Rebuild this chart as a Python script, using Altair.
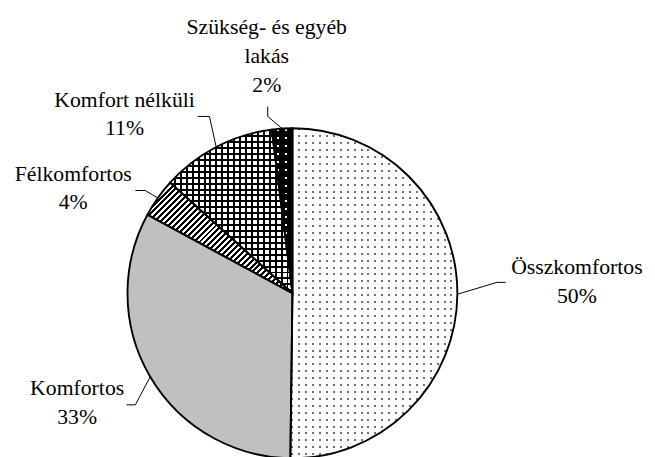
import math
import altair as alt
import pandas as pd

# ---------------- data ----------------
categories = ["Összkomfortos", "Komfortos", "Félkomfortos", "Komfort nélküli",
              "Szükség- és egyéb lakás"]
shares = [50.2, 32.7, 3.8, 11.3, 2.0]
label_text = ["Összkomfortos", "Komfortos", "Félkomfortos", "Komfort nélküli",
              "Szükség- és egyéb\nlakás"]

# ---------------- layout (page pixel coordinates) ----------------
M = 8                      # page margin
W, H = 647, 449            # drawing size
CX, CY, R = 296, 294, 167  # pie centre and radius
FONT = "Times New Roman, Liberation Serif, DejaVu Serif, serif"
FS = 22
LH = 29
# label anchor: centre x, first baseline y
LABEL_POS = [(584, 275), (78, 397), (74, 180), (126, 105), (270, 32)]
# leader elbow and end points
LEADERS = [[(503, 283), (512, 283)],
           [(137, 407), (128, 407)],
           [(147, 190), (137, 190)],
           [(212, 115), (200, 115)],
           [(271, 115), (271, 105)]]

total = sum(shares)
starts, ends = [], []
acc = 0.0
for v in shares:
    starts.append(acc / total * 2 * math.pi)
    acc += v
    ends.append(acc / total * 2 * math.pi)


def arc_bbox(a0, a1):
    pts = [(0.0, 0.0)]
    angs = [a0, a1] + [k * math.pi / 2 for k in range(5) if a0 < k * math.pi / 2 < a1]
    for a in angs:
        pts.append((R * math.sin(a), -R * math.cos(a)))
    xs = [p[0] for p in pts]
    ys = [p[1] for p in pts]
    x0 = CX - M + min(xs)
    y0 = CY - M + min(ys)
    return x0, y0, max(xs) - min(xs), max(ys) - min(ys)


def stripe_stops(start, length, period, on, on_color, off_color, phase=0.0):
    stops = []
    end = start + length

    def add(a, b, c):
        a = min(max(a, start), end)
        b = min(max(b, start), end)
        if b > a:
            stops.append({"offset": round((a - start) / length, 6), "color": c})
            stops.append({"offset": round((b - start) / length, 6), "color": c})

    k = math.floor((start - phase) / period) - 1
    while True:
        s = phase + k * period
        if s > end:
            break
        add(s, s + on, on_color)
        add(s + on, s + period, off_color)
        k += 1
    return stops


CLEAR = "rgba(0,0,0,0)"


def vgrad(i, period, on, on_color, off_color):
    x0, y0, w, h = arc_bbox(starts[i], ends[i])
    return {"gradient": "linear", "x1": 0, "y1": 0, "x2": 1, "y2": 0,
            "stops": stripe_stops(x0, w, period, on, on_color, off_color)}


def hgrad(i, period, on, on_color, off_color):
    x0, y0, w, h = arc_bbox(starts[i], ends[i])
    return {"gradient": "linear", "x1": 0, "y1": 0, "x2": 0, "y2": 1,
            "stops": stripe_stops(y0, h, period, on, on_color, off_color)}


def dgrad(i, period_s, on_s, on_color, off_color):
    # stripes along s = x + y (lines rising to the right)
    x0, y0, w, h = arc_bbox(starts[i], ends[i])
    k = (w + h) / (w * w + h * h)
    return {"gradient": "linear", "x1": 0, "y1": 0, "x2": w * k, "y2": h * k,
            "stops": stripe_stops(x0 + y0, w + h, period_s, on_s, on_color, off_color,
                                  phase=0.5)}


base_fill = {0: "#707070", 1: "#c0c0c0", 2: "white", 3: "white", 4: "white"}
over1 = {0: vgrad(0, 7, 2, CLEAR, "white"),
         2: dgrad(2, 6, 3, "black", CLEAR),
         3: vgrad(3, 6, 2, "black", CLEAR),
         4: vgrad(4, 8, 2, CLEAR, "black")}
over2 = {0: hgrad(0, 7, 2, CLEAR, "white"),
         3: hgrad(3, 6, 2, "black", CLEAR),
         4: hgrad(4, 8, 2, CLEAR, "black")}


def cond_fill(mapping):
    items = list(mapping.items())
    w = alt.when(alt.datum.idx == items[0][0]).then(alt.value(items[0][1]))
    for k, v in items[1:]:
        w = w.when(alt.datum.idx == k).then(alt.value(v))
    return w.otherwise(alt.value("transparent"))


pie_df = pd.DataFrame({"cat": categories, "share": shares, "idx": list(range(len(shares)))})

arc_enc = dict(
    theta=alt.Theta("share:Q", stack=True),
    order=alt.Order("idx:Q"),
    x=alt.value(CX - M),
    y=alt.value(CY - M),
)

base = alt.Chart(pie_df).mark_arc(outerRadius=R, strokeWidth=0).encode(
    fill=cond_fill(base_fill), **arc_enc)
layer1 = alt.Chart(pie_df).mark_arc(outerRadius=R, strokeWidth=0).encode(
    fill=cond_fill(over1), **arc_enc)
layer2 = alt.Chart(pie_df).mark_arc(outerRadius=R, strokeWidth=0).encode(
    fill=cond_fill(over2), **arc_enc)
outline = alt.Chart(pie_df).mark_arc(outerRadius=R, fill="transparent", stroke="black",
                                     strokeWidth=1.9).encode(**arc_enc)

# leader lines: from slice edge at mid angle to the label
rows = []
for i in range(len(shares)):
    mid = (starts[i] + ends[i]) / 2
    ex = CX + R * math.sin(mid)
    ey = CY - R * math.cos(mid)
    pts = [(ex, ey)] + LEADERS[i]
    for j, (px, py) in enumerate(pts):
        rows.append({"idx": i, "ord": j, "x": px, "y": py})
lead_df = pd.DataFrame(rows)

xs = alt.Scale(domain=[M, M + W], range=[0, W], nice=False, zero=False)
ys = alt.Scale(domain=[M, M + H], range=[0, H], nice=False, zero=False)

leaders = alt.Chart(lead_df).mark_line(color="black", strokeWidth=1).encode(
    x=alt.X("x:Q", scale=xs, axis=None),
    y=alt.Y("y:Q", scale=ys, axis=None),
    detail="idx:N",
    order="ord:Q",
)

lab_df = pd.DataFrame({
    "text": [f"{t}\n{round(v / total * 100)}%" for t, v in zip(label_text, shares)],
    "x": [p[0] for p in LABEL_POS],
    "y": [p[1] for p in LABEL_POS],
})
labels = alt.Chart(lab_df).mark_text(font=FONT, fontSize=FS, lineHeight=LH, align="center",
                                     baseline="alphabetic", lineBreak="\n", color="black").encode(
    x=alt.X("x:Q", scale=xs, axis=None),
    y=alt.Y("y:Q", scale=ys, axis=None),
    text="text:N",
)

chart = alt.layer(base, layer1, layer2, outline, leaders, labels).properties(
    width=W, height=H, padding=0, autosize=alt.AutoSizeParams(type="none"),
    background="white",
).configure_view(stroke=None)

chart.save("out.html", embed_options={"renderer": "svg", "actions": False})
